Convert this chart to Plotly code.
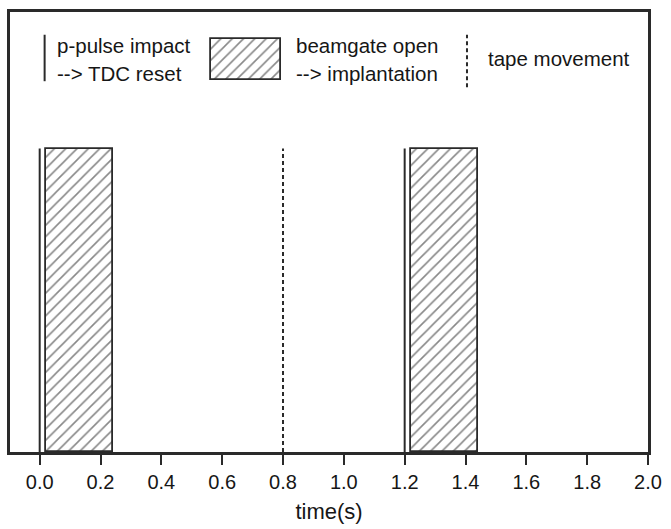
import plotly.graph_objects as go

# ---- data ----
pulse_times = [0.0, 1.2]              # p-pulse impact -> TDC reset
gate_start = [0.02, 1.22]             # beamgate open -> implantation
gate_end = [0.24, 1.44]
tape_times = [0.8]                    # tape movement
marker_height = 1.0
tick_vals = [0.0, 0.2, 0.4, 0.6, 0.8, 1.0, 1.2, 1.4, 1.6, 1.8, 2.0]
tick_text = ["0.0", "0.2", "0.4", "0.6", "0.8", "1.0", "1.2", "1.4", "1.6", "1.8", "2.0"]
x_title = "time(s)"
legend_labels = [["p-pulse impact", "--> TDC reset"],
                 ["beamgate open", "--> implantation"],
                 ["tape movement"]]

# ---- layout geometry ----
W, H = 671, 529
ML, MR, MT, MB = 10, 16, 9, 75
XR = [-0.0976, 2.0]
YR = [0.0, 1.45]
INK = "#2a2a2a"
TXT = "#161616"
FONT = "Liberation Sans, Arial, Helvetica, sans-serif"

pw = W - ML - MR
ph = H - MT - MB


def dx(px):
    return XR[0] + (px - ML) / pw * (XR[1] - XR[0])


def dy(py):
    return YR[0] + (MT + ph - py) / ph * (YR[1] - YR[0])


def pxp(px):
    return (px - ML) / pw


def pyp(py):
    return (MT + ph - py) / ph


fig = go.Figure()

hatch = dict(shape="/", fgcolor="#111111", bgcolor="white", size=8, solidity=0.2)

# hatched beamgate bars
fig.add_trace(go.Bar(
    x=[(s + e) / 2 for s, e in zip(gate_start, gate_end)],
    width=[e - s for s, e in zip(gate_start, gate_end)],
    y=[marker_height] * len(gate_start),
    base=0,
    marker=dict(color="white", pattern=hatch, line=dict(color=INK, width=1.8)),
    showlegend=False, hoverinfo="skip",
))

# p-pulse lines
xs, ys = [], []
for t in pulse_times:
    xs += [t, t, None]
    ys += [0, marker_height, None]
fig.add_trace(go.Scatter(x=xs, y=ys, mode="lines",
                         line=dict(color=INK, width=2), showlegend=False, hoverinfo="skip"))

# tape movement dashed lines
xs, ys = [], []
for t in tape_times:
    xs += [t, t, None]
    ys += [0, marker_height, None]
fig.add_trace(go.Scatter(x=xs, y=ys, mode="lines",
                         line=dict(color=INK, width=2, dash="4px,3px"),
                         showlegend=False, hoverinfo="skip"))

# ---- hand-drawn legend (inside the frame, top) ----
# solid line sample
fig.add_trace(go.Scatter(x=[dx(45), dx(45)], y=[dy(79), dy(32)], mode="lines",
                         line=dict(color=INK, width=2), showlegend=False, hoverinfo="skip"))
# hatched box sample
fig.add_trace(go.Bar(
    x=[(dx(213) + dx(284)) / 2], width=[dx(284) - dx(213)],
    y=[dy(36) - dy(78)], base=dy(78),
    marker=dict(color="white", pattern=hatch, line=dict(color=INK, width=1.8)),
    showlegend=False, hoverinfo="skip",
))
# dashed sample
fig.add_trace(go.Scatter(x=[dx(472), dx(472)], y=[dy(85), dy(32)], mode="lines",
                         line=dict(color=INK, width=2, dash="4px,3px"),
                         showlegend=False, hoverinfo="skip"))

annotations = []
text_pos = [(57, [43, 71]), (298, [43, 71]), (492, [56])]
for (x0, yl), lines in zip(text_pos, legend_labels):
    for yy, txt in zip(yl, lines):
        annotations.append(dict(
            x=pxp(x0), y=pyp(yy), xref="paper", yref="paper",
            xanchor="left", yanchor="middle", text=txt, showarrow=False,
            font=dict(family=FONT, size=20.5, color=TXT), borderpad=0,
        ))

fig.update_layout(
    width=W, height=H,
    margin=dict(l=ML, r=MR, t=MT, b=MB),
    plot_bgcolor="white", paper_bgcolor="white",
    barmode="overlay", bargap=0,
    annotations=annotations,
    font=dict(family=FONT, color=TXT),
    xaxis=dict(
        range=XR, tickmode="array", tickvals=tick_vals, ticktext=tick_text,
        ticks="outside", ticklen=10, tickwidth=2, tickcolor=INK,
        showline=True, linecolor=INK, linewidth=2.5, mirror=True,
        showgrid=False, zeroline=False,
        tickfont=dict(family=FONT, size=20, color=TXT),
        title=dict(text=x_title, font=dict(family=FONT, size=22, color=TXT), standoff=12),
    ),
    yaxis=dict(
        range=YR, showticklabels=False, ticks="",
        showline=True, linecolor=INK, linewidth=2.5, mirror=True,
        showgrid=False, zeroline=False,
    ),
)

fig.write_html("out.html")
